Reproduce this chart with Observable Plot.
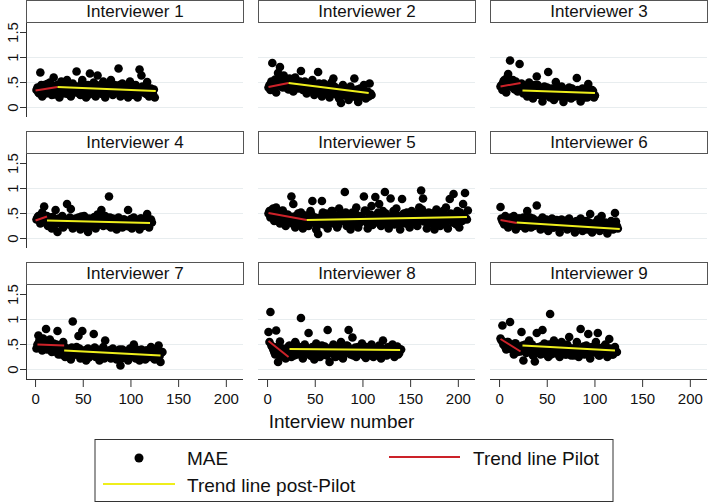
<!DOCTYPE html>
<html><head><meta charset="utf-8">
<script src="https://cdn.jsdelivr.net/npm/d3@7"></script>
<script src="https://cdn.jsdelivr.net/npm/@observablehq/plot@0.6"></script>
<style>
body{margin:0;background:#fff;font-family:"Liberation Sans",Arial,Helvetica,sans-serif;}
#chart{position:relative;width:709px;height:503px;overflow:hidden;background:#fff;}
.hdr{position:absolute;box-sizing:border-box;border:1px solid #555;background:#fff;text-align:center;font-size:17px;line-height:21px;color:#111;}
.abs{position:absolute;}
</style></head><body><div id="chart"></div>
<script>
// ---- data ----
const titles = ["Interviewer 1","Interviewer 2","Interviewer 3","Interviewer 4","Interviewer 5","Interviewer 6","Interviewer 7","Interviewer 8","Interviewer 9"];
// MAE by interview number: "a" arrays = odd interviews (1,3,5,...), "b" arrays = even interviews (2,4,6,...)
const mae1a = [.35,.30,.70,.22,.45,.28,.38,.50,.25,.60, .33,.45,.20,.52,.38,.28,.55,.42,.22,.48, .30,.72,.40,.25,.55,.35,.20,.45,.68,.30, .50,.22,.64,.38,.28,.52,.20,.42,.32,.55, .25,.45,.35,.78,.22,.48,.30,.40,.20,.52, .33,.25,.45,.20,.76,.64,.30,.42,.51,.22, .38,.28,.20];
const mae1b = [.40,.28,.45,.33,.38,.47,.30,.42,.35,.26, .44,.36,.30,.48,.34,.40,.27,.46,.37,.31, .42,.35,.28,.47,.38,.32,.44,.26,.40,.36, .30,.45,.33,.41,.27,.38,.46,.31,.36,.43, .29,.39,.34,.45,.27,.37,.42,.32,.28,.40, .35,.44,.26,.38,.31,.42,.34,.27,.39,.33, .30,.36];
const mae2a = [.40,.35,.89,.48,.30,.69,.81,.42,.64,.55, .38,.58,.45,.32,.60,.50,.40,.73,.35,.52, .28,.48,.38,.55,.25,.45,.71,.35,.22,.48, .30,.42,.20,.50,.58,.28,.38,.18,.09,.45, .25,.35,.15,.42,.30,.58,.20,.11,.38,.25, .45,.18,.32,.48,.25];
const mae2b = [.45,.52,.38,.56,.44,.60,.48,.40,.55,.46, .36,.50,.42,.58,.44,.38,.52,.40,.47,.34, .45,.39,.50,.33,.42,.36,.48,.30,.40,.35, .44,.28,.38,.33,.42,.26,.36,.31,.40,.24, .34,.29,.38,.22,.32,.27,.36,.20,.30,.34, .25,.31,.22,.28];
const mae3a = [.42,.35,.55,.30,.67,.94,.45,.38,.52,.32, .87,.48,.28,.40,.22,.50,.30,.18,.45,.62, .25,.35,.12,.42,.28,.71,.20,.38,.15,.51, .30,.22,.42,.11,.35,.25,.40,.18,.32,.22, .59,.28,.12,.38,.20,.30,.47,.25,.35,.20];
const mae3b = [.45,.52,.38,.60,.48,.42,.55,.36,.46,.40, .33,.44,.38,.30,.42,.35,.27,.40,.32,.45, .28,.37,.33,.24,.40,.30,.36,.22,.34,.29, .38,.25,.31,.36,.20,.33,.28,.38,.24,.30, .35,.22,.32,.27,.36,.20,.30,.26,.33,.24];
const mae4a = [.38,.45,.30,.52,.64,.35,.25,.42,.20,.35, .57,.13,.30,.40,.22,.35,.69,.28,.59,.20, .38,.25,.42,.18,.32,.45,.22,.13,.38,.28, .42,.20,.48,.35,.57,.25,.45,.30,.84,.22, .40,.28,.18,.42,.32,.22,.38,.25,.57,.30, .20,.42,.28,.35,.18,.40,.25,.32,.49,.22, .38];
const mae4b = [.42,.35,.48,.40,.32,.45,.38,.30,.43,.27, .36,.40,.32,.45,.28,.38,.33,.42,.26,.36, .40,.30,.35,.44,.27,.38,.32,.40,.25,.35, .43,.30,.37,.28,.41,.33,.38,.26,.42,.31, .36,.29,.40,.34,.27,.38,.31,.35,.24,.39, .30,.36,.27,.33,.40,.28,.35,.31,.26,.37, .32];
const mae5a = [.50,.42,.58,.35,.62,.45,.30,.55,.40,.25, .48,.35,.84,.69,.22,.42,.30,.52,.20,.38, .45,.25,.55,.75,.32,.18,.09,.42,.75,.28, .50,.20,.38,.55,.30,.45,.22,.60,.35,.48, .93,.25,.40,.18,.52,.32,.62,.22,.45,.35, .84,.55,.20,.42,.65,.30,.83,.48,.69,.25, .55,.93,.38,.20,.80,.45,.28,.60,.35,.18, .79,.50,.30,.42,.22,.55,.35,.48,.25,.62, .96,.80,.40,.20,.52,.30,.45,.18,.58,.35, .25,.48,.38,.62,.20,.79,.42,.89,.30,.55, .22,.48,.69,.91,.38];
const mae5b = [.55,.45,.60,.40,.52,.48,.38,.56,.42,.35, .46,.40,.30,.44,.36,.50,.28,.42,.34,.46, .38,.30,.48,.35,.42,.26,.40,.33,.52,.37, .30,.45,.38,.55,.32,.42,.27,.48,.36,.40, .52,.33,.45,.28,.40,.50,.36,.30,.44,.38, .56,.32,.42,.48,.27,.40,.35,.52,.30,.45, .38,.50,.28,.43,.36,.55,.32,.46,.40,.30, .48,.37,.52,.28,.44,.40,.33,.50,.36,.45, .58,.34,.46,.30,.42,.50,.38,.27,.48,.40, .36,.55,.30,.44,.38,.50,.32,.46,.28,.42, .52,.35,.45,.40,.56];
const mae6a = [.63,.35,.28,.42,.22,.38,.30,.45,.18,.35, .40,.25,.42,.20,.55,.32,.22,.40,.28,.66, .35,.18,.42,.25,.38,.15,.30,.40,.22,.35, .28,.12,.38,.25,.32,.18,.40,.22,.30,.12, .35,.25,.40,.15,.28,.35,.20,.49,.12,.30, .22,.38,.15,.45,.25,.32,.10,.28,.35,.18, .51,.25];
const mae6b = [.40,.32,.45,.36,.28,.42,.33,.38,.26,.40, .34,.30,.38,.27,.35,.42,.30,.25,.36,.32, .28,.38,.33,.24,.36,.30,.34,.22,.32,.37, .27,.33,.24,.30,.36,.22,.31,.28,.20,.34, .26,.30,.22,.35,.28,.18,.32,.25,.29,.21, .33,.26,.20,.30,.24,.28,.18,.31,.22,.27, .34,.20];
const mae7a = [.42,.68,.50,.38,.55,.81,.45,.60,.35,.52, .40,.77,.48,.30,.55,.25,.42,.35,.20,.96, .30,.45,.67,.22,.77,.38,.18,.42,.28,.35, .71,.25,.40,.18,.32,.45,.58,.28,.38,.22, .42,.30,.20,.35,.08,.40,.25,.32,.18,.42, .28,.50,.22,.35,.18,.40,.28,.20,.38,.25, .45,.30,.20,.42,.48,.15,.35];
const mae7b = [.50,.58,.45,.62,.52,.40,.56,.48,.44,.36, .50,.30,.42,.38,.46,.32,.40,.28,.44,.35, .30,.38,.42,.26,.36,.32,.40,.24,.35,.30, .44,.27,.36,.33,.40,.22,.34,.30,.38,.25, .32,.36,.28,.40,.22,.33,.29,.37,.24,.31, .35,.26,.40,.30,.22,.34,.28,.38,.25,.32, .36,.22,.30,.40,.27,.34];
const mae8a = [.75,1.15,.45,.35,.78,.15,.56,.28,.40,.22, .35,.48,.25,.42,.55,.30,.45,1.03,.22,.50, .35,.73,.28,.45,.20,.52,.38,.25,.48,.32, .42,.79,.15,.38,.50,.25,.45,.30,.55,.22, .40,.48,.79,.30,.64,.35,.25,.45,.38,.52, .28,.23,.42,.35,.50,.25,.40,.32,.48,.22, .58,.38,.28,.45,.35,.50,.25,.42,.30,.40];
const mae8b = [.55,.48,.40,.30,.45,.35,.26,.42,.38,.30, .46,.33,.40,.28,.50,.36,.42,.30,.38,.45, .32,.40,.27,.44,.36,.48,.30,.41,.35,.46, .28,.38,.43,.32,.40,.26,.45,.36,.42,.30, .38,.47,.33,.40,.28,.44,.36,.31,.42,.38, .30,.45,.35,.40,.27,.43,.37,.32,.46,.34, .40,.29,.44,.36,.31,.42,.38,.46,.33,.40];
const mae9a = [.62,.88,.50,.40,.55,.95,.45,.30,.52,.35, .42,.75,.18,.50,.35,.58,.40,.28,.16,.73, .45,.30,.79,.52,.38,.25,1.11,.45,.58,.32, .48,.25,.55,.38,.30,.50,.65,.28,.42,.35, .55,.25,.81,.40,.30,.48,.71,.22,.45,.35, .55,.73,.28,.42,.35,.50,.25,.61,.38,.30, .45,.35];
const mae9b = [.58,.50,.45,.55,.42,.48,.38,.52,.44,.40, .36,.48,.42,.33,.46,.38,.50,.30,.44,.40, .35,.47,.32,.42,.38,.50,.30,.44,.36,.40, .48,.33,.42,.38,.30,.45,.35,.41,.28,.44, .37,.40,.32,.46,.36,.42,.30,.39,.45,.34, .40,.28,.43,.36,.47,.32,.38,.42,.30,.40, .36];
// trend lines: [x1, y1, x2, y2]
const pilotTrend = [[0,.34,23,.41],[1,.41,22,.49],[1,.42,22,.49],[0,.36,12,.44],[1,.51,41,.37],[1,.37,18,.31],[2,.50,30,.48],[1,.57,22,.25],[1,.61,22,.36]];
const postTrend  = [[23,.41,126,.33],[22,.49,106,.29],[24,.34,100,.29],[12,.36,120,.31],[41,.37,209,.43],[18,.32,126,.19],[30,.38,131,.28],[23,.41,139,.39],[24,.48,121,.38]];
const xTicks = [0,50,100,150,200];
const yTicks = [0,.5,1,1.5];
const yTickLabels = ["0",".5","1","1.5"];
const gridValues = [0,.5,1];
const xDomain = [-9.5,218], yDomain = [-0.2,1.68];
const legendLabels = ["MAE","Trend line Pilot","Trend line post-Pilot"];
const xTitle = "Interview number";

// ---- layout ----
const RED = "#cc2229", YEL = "#eeee1c", AX = "#333";
const FONT = '"Liberation Sans", Arial, Helvetica, sans-serif';
const chart = document.getElementById("chart");
const colLeft = [26,258,490], rowTop = [0,131,262], W = 217, hdrH = 23, plotH = 94;
const mL = 34, mR = 8, mT = 8, mB = 36;
const seriesA = [mae1a,mae2a,mae3a,mae4a,mae5a,mae6a,mae7a,mae8a,mae9a];
const seriesB = [mae1b,mae2b,mae3b,mae4b,mae5b,mae6b,mae7b,mae8b,mae9b];

seriesA.forEach((valsA,k) => {
  const c = k % 3, r = Math.floor(k / 3);
  const pts = valsA.map((v,i) => ({n: 1 + 2 * i, v}))
    .concat(seriesB[k].map((v,i) => ({n: 2 + 2 * i, v})))
    .sort((a,b) => a.n - b.n);
  const hdr = document.createElement("div");
  hdr.className = "hdr";
  Object.assign(hdr.style, {left: colLeft[c] + "px", top: rowTop[r] + "px", width: (W + 1) + "px", height: hdrH + "px"});
  hdr.textContent = titles[k];
  chart.appendChild(hdr);

  const marks = [Plot.ruleY(gridValues, {stroke: "#e8edef", strokeWidth: 1})];
  if (c === 0) {
    marks.push(Plot.ruleX([xDomain[0]], {stroke: AX, strokeWidth: 1}));
    marks.push(Plot.axisY({ticks: yTicks, tickSize: 6, tickRotate: -90, label: null, fontSize: 15, stroke: AX,
      fill: "#111", tickFormat: d => yTickLabels[yTicks.indexOf(d)]}));
  }
  if (r === 2) {
    marks.push(Plot.ruleY([yDomain[0]], {stroke: AX, strokeWidth: 1}));
    marks.push(Plot.axisX({ticks: xTicks, tickSize: 8, tickPadding: 6, label: null, fontSize: 15, stroke: AX, fill: "#111"}));
  }
  marks.push(Plot.dot(pts, {x: "n", y: "v", r: 4.3, fill: "#000"}));
  marks.push(Plot.link([pilotTrend[k]], {x1: d => d[0], y1: d => d[1], x2: d => d[2], y2: d => d[3], stroke: RED, strokeWidth: 2}));
  marks.push(Plot.link([postTrend[k]], {x1: d => d[0], y1: d => d[1], x2: d => d[2], y2: d => d[3], stroke: YEL, strokeWidth: 2}));
  const svg = Plot.plot({
    width: W + mL + mR, height: plotH + mT + mB,
    marginLeft: mL, marginRight: mR, marginTop: mT, marginBottom: mB,
    x: {domain: xDomain, axis: null}, y: {domain: yDomain, axis: null},
    style: {background: "transparent", overflow: "visible", fontFamily: FONT, color: "#111"},
    marks
  });
  svg.classList.add("abs");
  svg.style.left = (colLeft[c] - mL) + "px";
  svg.style.top = (rowTop[r] + hdrH - mT) + "px";
  chart.appendChild(svg);
});

// axis title
const t = document.createElement("div");
t.className = "abs";
Object.assign(t.style, {left: "0px", width: "709px", top: "411px", textAlign: "center", fontSize: "19px", color: "#111", paddingRight: "26px", boxSizing: "border-box"});
t.textContent = xTitle;
chart.appendChild(t);

// legend
const lg = d3.create("svg").attr("width", 709).attr("height", 70).attr("class", "abs")
  .style("left", "0px").style("top", "436px").style("font-family", FONT);
lg.append("rect").attr("x", 95).attr("y", 3.5).attr("width", 518).attr("height", 62).attr("fill", "#fff").attr("stroke", AX);
lg.append("circle").attr("cx", 139).attr("cy", 22).attr("r", 4.5).attr("fill", "#000");
lg.append("text").attr("x", 187).attr("y", 29).attr("font-size", 19).attr("fill", "#111").text(legendLabels[0]);
lg.append("line").attr("x1", 389).attr("x2", 460).attr("y1", 21).attr("y2", 21).attr("stroke", RED).attr("stroke-width", 2);
lg.append("text").attr("x", 473).attr("y", 29).attr("font-size", 19).attr("fill", "#111").text(legendLabels[1]);
lg.append("line").attr("x1", 103).attr("x2", 175).attr("y1", 48).attr("y2", 48).attr("stroke", YEL).attr("stroke-width", 2);
lg.append("text").attr("x", 187).attr("y", 56).attr("font-size", 19).attr("fill", "#111").text(legendLabels[2]);
chart.appendChild(lg.node());
</script>
</body></html>
